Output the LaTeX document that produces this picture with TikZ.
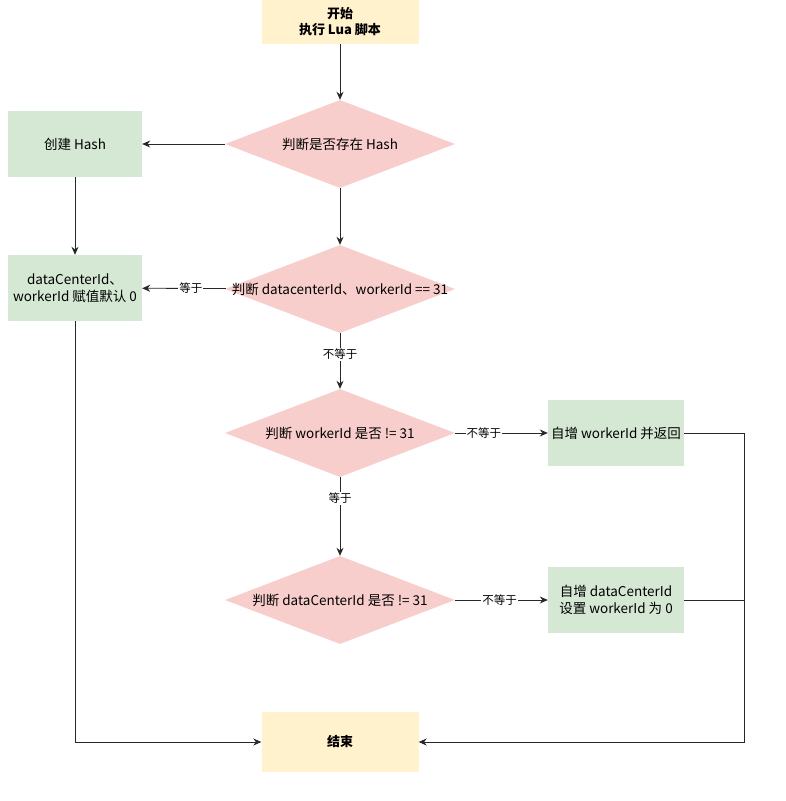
\documentclass[tikz,border=0pt]{standalone}
\usepackage{fontspec}
\setmainfont{Noto Sans CJK SC}
\usetikzlibrary{shapes.geometric,arrows.meta}

\tikzset{
  term/.style={fill={rgb,255:red,255;green,242;blue,204}, minimum width=157pt, inner sep=0pt, align=center, font=\bfseries\fontsize{13}{16}\selectfont},
  proc/.style={fill={rgb,255:red,213;green,232;blue,212}, minimum width=134pt, minimum height=66pt, inner sep=0pt, align=center, font=\fontsize{13.5}{17}\selectfont},
  decide/.style={diamond, fill={rgb,255:red,248;green,206;blue,204}, inner sep=0pt, minimum width=230pt, minimum height=88pt},
  dtext/.style={font=\fontsize{13.5}{17}\selectfont},
  flow/.style={-{Stealth[length=8pt,width=7pt]}, draw={rgb,255:red,40;green,40;blue,40}, thick},
  lbl/.style={fill=white, inner sep=1pt, font=\fontsize{11.5}{14}\selectfont}
}

\begin{document}
\begin{tikzpicture}[x=1pt,y=-1pt]
\useasboundingbox[fill=white] (0,0) rectangle (785,801);
% nodes
\node[term, minimum height=44pt] (start) at (340,22) {开始\\执行 Lua 脚本};
\node[decide] (d1) at (340,144) {};
\node[dtext] at (d1) {判断是否存在 Hash};
\node[proc] (mk) at (75,144) {创建 Hash};
\node[decide] (d2) at (340,289) {};
\node[dtext] at (d2) {判断 datacenterId、workerId == 31};
\node[proc] (dflt) at (75,288) {dataCenterId、\\workerId 赋值默认 0};
\node[decide] (d3) at (340,433) {};
\node[dtext] at (d3) {判断 workerId 是否 != 31};
\node[proc, minimum width=136pt] (incw) at (616,433) {自增 workerId 并返回};
\node[decide] (d4) at (340,600) {};
\node[dtext] at (d4) {判断 dataCenterId 是否 != 31};
\node[proc, minimum width=136pt] (incd) at (616,600) {自增 dataCenterId\\设置 workerId 为 0};
\node[term, minimum height=60pt] (stop) at (340,742) {结束};
\coordinate (rt) at (744,433);
% connectors
\draw[flow] (start) -- (d1);
\draw[flow] (d1) -- (mk);
\draw[flow] (d1) -- (d2);
\draw[flow] (mk) -- (dflt);
\draw[flow] (d2) -- node[lbl, pos=0.42] {等于} (dflt);
\draw[flow] (d2) -- node[lbl, pos=0.38] {不等于} (d3);
\draw[flow] (d3) -- node[lbl, pos=0.31] {不等于} (incw);
\draw[flow] (d3) -- node[lbl, pos=0.27] {等于} (d4);
\draw[flow] (d4) -- node[lbl, pos=0.48] {不等于} (incd);
\draw[flow] (dflt.south) |- (stop.west);
\draw[flow, -] (incw.east) -- (rt);
\draw[flow, -] (incd.east) -- (rt |- incd.east);
\draw[flow] (rt) |- (stop.east);
\end{tikzpicture}
\end{document}
